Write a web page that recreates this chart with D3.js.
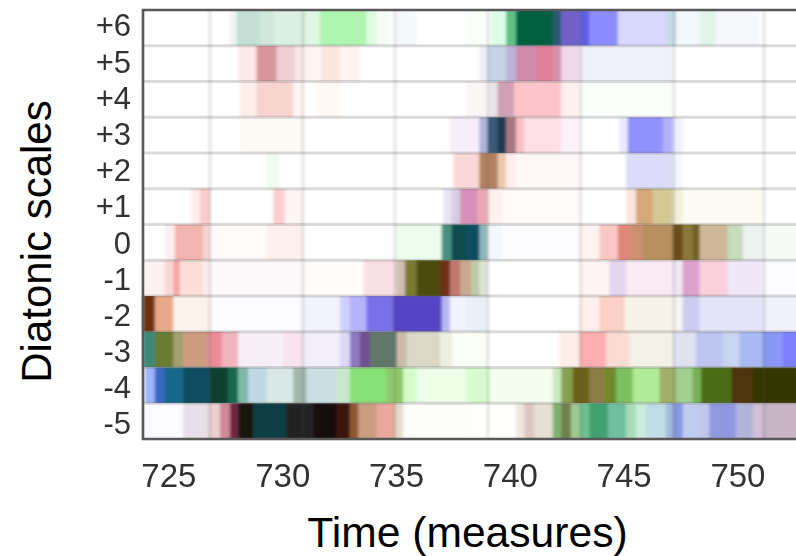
<!DOCTYPE html>
<html>
<head>
<meta charset="utf-8">
<script src="https://cdn.jsdelivr.net/npm/d3@7"></script>
<style>
  html, body { margin: 0; padding: 0; background: #fff; overflow: hidden; }
  text { font-family: "Liberation Sans", Arial, sans-serif; }
</style>
</head>
<body>
<div id="chart"></div>
<script>
// scale labels top to bottom, time ticks and grid positions, all in measures
const scaleLabels = ["+6", "+5", "+4", "+3", "+2", "+1", "0", "-1", "-2", "-3", "-4", "-5"];
const timeTicks = [725, 730, 735, 740, 745, 750];
const gridMeasures = [726.78, 730.87, 734.91, 738.99, 743.07, 747.17, 751.13];
const timeDomain = [723.84, 752.53];

// every row: [measure where the colour starts, colour], runs until the next entry
const rowP6 = [[723.84,"#ffffff"],[727.66,"#eef6f4"],[727.95,"#c4e0d6"],[728.97,"#cfe6db"],[729.56,"#daf0e0"],[731.03,"#dff8e3"],[731.61,"#aef5b0"],[733.66,"#dffbdf"],[734.1,"#f5fdf5"],[734.69,"#ffffff"],[734.98,"#f4f9fb"],[735.86,"#ffffff"],[738.03,"#fafffa"],[739.13,"#dcfde6"],[739.79,"#5fc088"],[740.23,"#006040"],[741.84,"#2a5a70"],[742.21,"#7060c8"],[743.01,"#6060e0"],[743.45,"#8c8cff"],[744.7,"#d8d8fc"],[746.82,"#c8dce8"],[747.26,"#f0f8fc"],[748.29,"#e2f4ea"],[749.02,"#f6f8fc"],[750.92,"#ffffff"]];
const rowP5 = [[723.84,"#ffffff"],[728.02,"#fbeae8"],[728.83,"#d9979b"],[729.71,"#efcfd3"],[730.51,"#fae8e8"],[730.88,"#fff6f4"],[731.68,"#fbe6e0"],[732.49,"#fff3f0"],[733.37,"#ffffff"],[738.62,"#eef0f8"],[738.98,"#c6d5e6"],[739.79,"#bcb4d8"],[740.23,"#cf8cac"],[741.11,"#df7f98"],[741.84,"#d692aa"],[742.21,"#eed8ec"],[743.01,"#f0f0fc"],[747.11,"#ffffff"]];
const rowP4 = [[723.84,"#ffffff"],[728.1,"#fdeeea"],[728.83,"#f8d4d0"],[730.44,"#fff4f2"],[730.88,"#ffffff"],[731.46,"#fff8f4"],[732.49,"#ffffff"],[738.03,"#fbf6f6"],[739.06,"#e8e4e8"],[739.42,"#d0a0b4"],[740.15,"#fcc4c8"],[742.21,"#fff0f0"],[743.01,"#fbfffb"],[747.11,"#ffffff"]];
const rowP3 = [[723.84,"#ffffff"],[728.1,"#fdf9f4"],[730.88,"#ffffff"],[737.32,"#f8eef8"],[738.62,"#b0b4dc"],[738.98,"#3a5878"],[739.42,"#1e3a50"],[739.79,"#a87880"],[740.23,"#f8c0c4"],[740.59,"#fde0e6"],[742.21,"#fdf2fa"],[743.01,"#ffffff"],[744.77,"#eaeafc"],[745.14,"#9090ff"],[746.67,"#b0b0fc"],[747.11,"#f0f0ff"],[747.55,"#ffffff"]];
const rowP2 = [[723.84,"#ffffff"],[729.27,"#f2fbf2"],[729.85,"#ffffff"],[737.47,"#fbd8d8"],[738.62,"#b08060"],[739.42,"#ecc8b0"],[739.79,"#fdeeee"],[740.23,"#fff8f8"],[743.01,"#ffffff"],[745.06,"#dcdcfa"],[747.11,"#f6f6ff"],[747.55,"#ffffff"]];
const rowP1 = [[723.84,"#ffffff"],[725.97,"#fdeceb"],[726.34,"#fbcccc"],[726.78,"#ffffff"],[729.56,"#fbcfd2"],[730.07,"#fff4f4"],[730.88,"#ffffff"],[737.03,"#e8e4f4"],[737.4,"#d8cce4"],[737.77,"#d890b8"],[738.54,"#eca8b4"],[738.98,"#fff0f0"],[739.64,"#fffafa"],[743.01,"#ffffff"],[745.06,"#fce4dc"],[745.5,"#d4a878"],[746.23,"#d4c894"],[747.11,"#f2f0d8"],[747.55,"#fbfbf4"],[751.07,"#ffffff"]];
const rowZero = [[723.84,"#ffffff"],[724.8,"#fceeee"],[725.24,"#f4b4b0"],[726.48,"#f8d4d0"],[726.78,"#fffafa"],[729.27,"#fff0f0"],[730.88,"#fffefe"],[734.98,"#ecfdee"],[736.96,"#4a9080"],[737.4,"#104c50"],[738.03,"#104e60"],[738.62,"#90b8bc"],[738.98,"#f4f8fc"],[739.64,"#fdfdff"],[743.01,"#fff4f0"],[743.89,"#fcc8c4"],[744.7,"#e08878"],[745.28,"#cc9070"],[745.79,"#b89060"],[747.11,"#6a4e18"],[747.55,"#8c7838"],[747.99,"#70602a"],[748.29,"#cfb898"],[749.53,"#c8dcc0"],[750.19,"#ecf2f0"],[751.07,"#f6fbf8"]];
const rowM1 = [[723.84,"#ffffff"],[723.92,"#fdf0f2"],[724.8,"#fbd8d8"],[725.17,"#f4a8a8"],[725.46,"#fce0d8"],[726.48,"#fdecec"],[726.78,"#fdf9fb"],[730.88,"#fffcfc"],[733.52,"#fae0e4"],[734.98,"#d0c0b0"],[735.35,"#7a7a30"],[735.86,"#4c4c0c"],[736.89,"#6c3018"],[737.32,"#c07870"],[737.77,"#c8a890"],[738.25,"#c0c8a8"],[738.62,"#dce4d0"],[738.98,"#ffffff"],[743.01,"#fff4f4"],[744.33,"#e4d4ec"],[745.06,"#faeaf4"],[747.11,"#f0e8f4"],[747.55,"#dca0cc"],[748.29,"#fad0dc"],[749.53,"#f0e8f8"],[751.07,"#fbfaff"]];
const rowM2 = [[723.84,"#6a3010"],[724.36,"#e8a888"],[725.17,"#fdf2ec"],[726.78,"#fcfbff"],[730.88,"#f2f2fc"],[732.49,"#d0d0ff"],[732.93,"#b4b4fc"],[733.66,"#7a70e8"],[734.83,"#5444c4"],[736.96,"#b8b8f0"],[737.32,"#f2f2fc"],[738.03,"#eaf0f8"],[738.98,"#ffffff"],[743.01,"#fff0ec"],[743.89,"#fcd0c4"],[744.99,"#f6f2e8"],[747.11,"#f8f4f4"],[747.55,"#ccccf0"],[748.29,"#e4e4f8"],[751.07,"#eff0fa"]];
const rowM3 = [[723.84,"#3c8878"],[724.36,"#6a7c30"],[725.17,"#a0a070"],[725.6,"#cc9c80"],[726.7,"#ec8c98"],[727.29,"#f2b4bc"],[728.02,"#f6eef8"],[730,"#f8e4f0"],[730.88,"#f2eefc"],[732.49,"#ddd8f8"],[732.93,"#8c78c0"],[733.37,"#705090"],[733.81,"#607868"],[734.98,"#cabca8"],[735.42,"#dcd8c8"],[736.89,"#eceee0"],[737.4,"#fafcf6"],[738.98,"#ffffff"],[742.13,"#fdeee8"],[743.01,"#fcaeb0"],[744.18,"#fbdcd4"],[745.21,"#f4f2e6"],[747.11,"#e0e2f0"],[748.14,"#bcc4f0"],[749.31,"#c8d4f0"],[750.04,"#a8b8f0"],[751.07,"#8898f4"],[751.95,"#7c80fc"]];
const rowM4 = [[723.84,"#ffffff"],[723.92,"#a0b4fc"],[724.36,"#3868c0"],[724.8,"#186888"],[725.6,"#0c4c60"],[726.78,"#08402e"],[727.58,"#186850"],[728.02,"#80b8a8"],[728.46,"#c0d8e4"],[729.27,"#d8e8e4"],[730.44,"#a4b8ac"],[731.03,"#cce0e4"],[732.34,"#c8e8cc"],[732.93,"#88e078"],[734.54,"#90c868"],[735.27,"#d4fcc8"],[735.86,"#ecfde8"],[738.03,"#d8fcd0"],[739.06,"#f4fdf0"],[741.84,"#cce8c0"],[742.21,"#88a050"],[742.72,"#6c6014"],[743.45,"#8c7c44"],[744.11,"#70882c"],[744.62,"#7cc060"],[745.36,"#b0ec98"],[746.53,"#a0b068"],[747.26,"#a0d090"],[747.99,"#78b058"],[748.36,"#4c6c18"],[749.68,"#503410"],[750.63,"#343400"]];
const rowM5 = [[723.84,"#fbfaff"],[725.6,"#e8e0e8"],[726.7,"#ecd0d0"],[727.22,"#d08898"],[727.66,"#702840"],[728.02,"#181410"],[728.68,"#103c44"],[730.15,"#242424"],[731.32,"#140810"],[732.34,"#381810"],[732.93,"#905830"],[733.3,"#cc9c80"],[734.1,"#e8a89c"],[734.91,"#e4dccc"],[735.27,"#fdfdf9"],[738.03,"#fefefa"],[740.23,"#efe6e0"],[740.59,"#dcc8c0"],[741.03,"#e6e0d4"],[741.84,"#80b070"],[742.21,"#708050"],[742.64,"#a0c890"],[743.01,"#70c090"],[743.45,"#40a070"],[744.26,"#70c0a0"],[745.06,"#a8dcb8"],[745.5,"#c8ecd8"],[745.94,"#c0dce4"],[746.82,"#a0bcd8"],[747.11,"#8898e0"],[747.55,"#c0ccf0"],[748.29,"#c0c8e8"],[748.72,"#9098e0"],[749.9,"#b0b4d8"],[750.63,"#d0c0d8"],[751.07,"#c8b4c4"]];
const rows = [rowP6, rowP5, rowP4, rowP3, rowP2, rowP1, rowZero, rowM1, rowM2, rowM3, rowM4, rowM5];

const width = 796, height = 556;
const margin = ({ top: 10, right: 0, bottom: 117, left: 143 });

const svg = d3.select("#chart").append("svg")
    .attr("width", width)
    .attr("height", height);

// the source is a soft raster, so the marks get a small blur, more along time
const defs = svg.append("defs");
defs.append("filter")
    .attr("id", "soft")
    .attr("x", "-2%").attr("y", "-2%")
    .attr("width", "104%").attr("height", "104%")
    .append("feGaussianBlur")
    .attr("stdDeviation", "1.7 0.7");
defs.append("filter")
    .attr("id", "softText")
    .append("feGaussianBlur")
    .attr("stdDeviation", 0.4);

const xScale = d3.scaleLinear()
    .domain(timeDomain)
    .range([margin.left, width - margin.right]);

const yScale = d3.scaleBand()
    .domain(scaleLabels)
    .range([margin.top, height - margin.bottom]);

// the row labels are spaced a little wider than the rows
const labelScale = d3.scalePoint()
    .domain(scaleLabels)
    .range([26, 424]);

const plot = svg.append("g").attr("filter", "url(#soft)");

// heat cells
scaleLabels.forEach((label, i) => {
    const row = rows[i];
    plot.append("g").selectAll("rect")
        .data(row)
        .join("rect")
        .attr("x", d => xScale(d[0]))
        .attr("y", yScale(label))
        .attr("width", (d, j) => xScale(j + 1 < row.length ? row[j + 1][0] : timeDomain[1] + 1) - xScale(d[0]) + 0.5)
        .attr("height", yScale.bandwidth())
        .attr("fill", d => d[1]);
});

// grid
plot.append("g").selectAll("line")
    .data(gridMeasures)
    .join("line")
    .attr("x1", d => xScale(d))
    .attr("x2", d => xScale(d))
    .attr("y1", yScale.range()[0])
    .attr("y2", yScale.range()[1])
    .attr("stroke", "#555")
    .attr("stroke-opacity", 0.3)
    .attr("stroke-width", 1.6);

plot.append("g").selectAll("line")
    .data(scaleLabels.slice(1))
    .join("line")
    .attr("x1", margin.left)
    .attr("x2", width + 10)
    .attr("y1", d => yScale(d))
    .attr("y2", d => yScale(d))
    .attr("stroke", "#666")
    .attr("stroke-opacity", 0.24)
    .attr("stroke-width", 3);

// frame, right side runs off the picture
svg.append("path")
    .attr("d", `M${width + 5},${margin.top} H${margin.left} V${height - margin.bottom} H${width + 5}`)
    .attr("fill", "none")
    .attr("stroke", "#585858")
    .attr("stroke-width", 2.6)
    .attr("filter", "url(#softText)");

// axes
const xAxis = d3.axisBottom(xScale).tickValues(timeTicks).tickSize(0).tickPadding(0);
const yAxis = d3.axisLeft(labelScale).tickSize(0).tickPadding(0);

svg.append("g")
    .attr("transform", `translate(-1, 464)`)
    .attr("filter", "url(#softText)")
    .call(xAxis)
    .call(g => g.select(".domain").remove())
    .selectAll("text")
    .attr("font-size", 33)
    .attr("fill", "#333")
    .attr("dy", "0.71em");

svg.append("g")
    .attr("transform", `translate(131, 0)`)
    .attr("filter", "url(#softText)")
    .call(yAxis)
    .call(g => g.select(".domain").remove())
    .selectAll("text")
    .attr("font-size", 31)
    .attr("fill", "#333");

svg.append("text")
    .attr("text-anchor", "middle")
    .attr("x", 467.5)
    .attr("y", 547)
    .attr("font-size", 42.6)
    .attr("fill", "#000")
    .text("Time (measures)");

svg.append("text")
    .attr("text-anchor", "middle")
    .attr("transform", "translate(51, 241.5) rotate(-90)")
    .attr("font-size", 42)
    .attr("fill", "#000")
    .text("Diatonic scales");
</script>
</body>
</html>
